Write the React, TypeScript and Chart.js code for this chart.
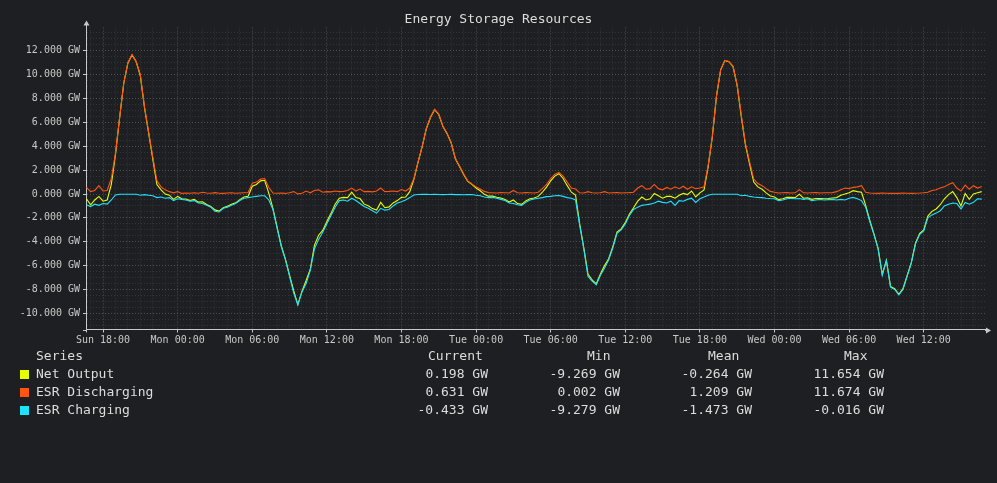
import { useEffect, useRef } from "react"
import { Chart, registerables } from "chart.js"

Chart.register(...registerables)

// time axis: hours counted from Sun 00:00, one sample every 20 minutes
const START_HOUR = 16 + 40 / 60
const STEP_HOURS = 1 / 3
const X_MIN = 16.63
const X_MAX = 88.93
const Y_MIN = -11.35
const Y_MAX = 13.95
const DAY_NAMES = ["Sun", "Mon", "Tue", "Wed", "Thu"]

// GW
const netOutput = [
  -0.4, -0.9, -0.5, -0.2, -0.6, -0.5, 0.8, 3.3, 6.38, 9.28,
  10.98, 11.65, 11.08, 9.9, 7.25, 5.1, 2.95, 0.8, 0.35, 0.0,
  -0.1, -0.45, -0.2, -0.4, -0.42, -0.54, -0.45, -0.68, -0.65, -0.87,
  -1.04, -1.33, -1.43, -1.15, -1.02, -0.85, -0.74, -0.47, -0.25, -0.18,
  0.65, 0.8, 1.1, 1.15, 0.05, -1.22, -2.79, -4.32, -5.45, -6.8,
  -8.1, -9.27, -8.13, -7.25, -6.3, -4.3, -3.45, -3.05, -2.3, -1.62,
  -0.85, -0.35, -0.28, -0.3, 0.15, -0.3, -0.38, -0.85, -0.98, -1.22,
  -1.35, -0.7, -1.15, -1.08, -0.75, -0.55, -0.28, -0.25, 0.2, 1.22,
  2.66, 3.97, 5.47, 6.41, 7.07, 6.66, 5.65, 5.06, 4.27, 2.95,
  2.31, 1.64, 1.05, 0.81, 0.5, 0.27, -0.03, -0.18, -0.18, -0.27,
  -0.33, -0.45, -0.67, -0.5, -0.8, -0.87, -0.58, -0.4, -0.34, -0.2,
  0.15, 0.58, 1.1, 1.5, 1.7, 1.3, 0.7, 0.15, -0.08, -2.5,
  -4.52, -6.7, -7.2, -7.52, -6.7, -6.0, -5.42, -4.4, -3.18, -2.92,
  -2.4, -1.68, -1.15, -0.6, -0.25, -0.5, -0.4, 0.05, -0.15, -0.35,
  -0.2, -0.2, -0.35, -0.1, 0.05, -0.05, 0.25, -0.25, 0.1, 0.35,
  2.3, 4.78, 8.18, 10.38, 11.18, 11.08, 10.68, 9.08, 6.45, 4.1,
  2.5, 1.0, 0.6, 0.4, 0.1, -0.16, -0.25, -0.47, -0.4, -0.28,
  -0.27, -0.3, -0.01, -0.35, -0.32, -0.45, -0.38, -0.37, -0.4, -0.37,
  -0.33, -0.3, -0.1, 0.0, 0.1, 0.28, 0.2, 0.15, -0.95, -2.22,
  -3.34, -4.55, -6.72, -5.54, -7.75, -7.93, -8.4, -7.92, -6.84, -5.75,
  -4.13, -3.32, -3.0, -1.85, -1.45, -1.25, -0.9, -0.4, -0.05, 0.2,
  -0.3, -1.0, 0.05, -0.45, 0.0, 0.1, 0.2,
]

const esrDischarging = [
  0.55, 0.2, 0.3, 0.7, 0.25, 0.3, 1.3, 3.4, 6.4, 9.3,
  11.0, 11.67, 11.1, 10.0, 7.3, 5.2, 3.1, 1.1, 0.6, 0.35,
  0.2, 0.1, 0.2, 0.05, 0.08, 0.06, 0.1, 0.07, 0.15, 0.08,
  0.06, 0.12, 0.07, 0.05, 0.08, 0.1, 0.06, 0.08, 0.1, 0.12,
  0.9, 1.0, 1.25, 1.3, 0.55, 0.08, 0.06, 0.08, 0.05, 0.1,
  0.2, 0.01, 0.07, 0.25, 0.1, 0.3, 0.35, 0.15, 0.2, 0.18,
  0.25, 0.2, 0.22, 0.3, 0.5, 0.25, 0.42, 0.2, 0.22, 0.18,
  0.25, 0.5, 0.2, 0.22, 0.25, 0.2, 0.37, 0.25, 0.5, 1.3,
  2.7, 4.0, 5.5, 6.45, 7.1, 6.7, 5.7, 5.1, 4.3, 3.0,
  2.35, 1.7, 1.1, 0.85, 0.6, 0.42, 0.22, 0.12, 0.1, 0.08,
  0.12, 0.1, 0.08, 0.3, 0.1, 0.08, 0.12, 0.1, 0.08, 0.15,
  0.45, 0.8, 1.3, 1.65, 1.82, 1.5, 1.0, 0.5, 0.42, 0.1,
  0.08, 0.2, 0.1, 0.08, 0.1, 0.2, 0.08, 0.1, 0.12, 0.08,
  0.1, 0.12, 0.15, 0.5, 0.7, 0.4, 0.45, 0.8, 0.45, 0.35,
  0.55, 0.4, 0.6, 0.45, 0.65, 0.4, 0.6, 0.45, 0.5, 0.6,
  2.4, 4.8, 8.2, 10.4, 11.2, 11.1, 10.7, 9.1, 6.6, 4.2,
  2.7, 1.25, 0.88, 0.7, 0.45, 0.22, 0.15, 0.08, 0.1, 0.12,
  0.08, 0.1, 0.37, 0.1, 0.08, 0.1, 0.12, 0.08, 0.1, 0.1,
  0.12, 0.2, 0.35, 0.5, 0.45, 0.56, 0.6, 0.7, 0.15, 0.08,
  0.06, 0.05, 0.08, 0.06, 0.05, 0.07, 0.05, 0.08, 0.06, 0.05,
  0.07, 0.08, 0.1, 0.15, 0.3, 0.35, 0.5, 0.6, 0.8, 0.95,
  0.5, 0.25, 0.75, 0.4, 0.7, 0.5, 0.63,
]

const esrCharging = [
  -0.9, -1.05, -0.85, -0.95, -0.8, -0.85, -0.5, -0.08, -0.02, -0.02,
  -0.02, -0.02, -0.02, -0.1, -0.05, -0.1, -0.15, -0.3, -0.25, -0.35,
  -0.3, -0.55, -0.4, -0.45, -0.5, -0.6, -0.55, -0.75, -0.8, -0.95,
  -1.1, -1.45, -1.5, -1.2, -1.1, -0.95, -0.8, -0.55, -0.35, -0.3,
  -0.25, -0.2, -0.15, -0.15, -0.5, -1.3, -2.85, -4.4, -5.5, -6.9,
  -8.3, -9.28, -8.2, -7.5, -6.4, -4.6, -3.8, -3.2, -2.5, -1.8,
  -1.1, -0.55, -0.5, -0.6, -0.35, -0.55, -0.8, -1.05, -1.2, -1.4,
  -1.6, -1.2, -1.35, -1.3, -1.0, -0.75, -0.65, -0.5, -0.3, -0.08,
  -0.04, -0.03, -0.03, -0.04, -0.03, -0.04, -0.05, -0.04, -0.03, -0.05,
  -0.04, -0.06, -0.05, -0.04, -0.1, -0.15, -0.25, -0.3, -0.28, -0.35,
  -0.45, -0.55, -0.75, -0.8, -0.9, -0.95, -0.7, -0.5, -0.42, -0.35,
  -0.3, -0.22, -0.2, -0.15, -0.12, -0.2, -0.3, -0.35, -0.5, -2.6,
  -4.6, -6.9, -7.3, -7.6, -6.8, -6.2, -5.5, -4.5, -3.3, -3.0,
  -2.5, -1.8, -1.3, -1.1, -0.95, -0.9, -0.85, -0.75, -0.6, -0.7,
  -0.75, -0.6, -0.95, -0.55, -0.6, -0.45, -0.35, -0.7, -0.4, -0.25,
  -0.1, -0.02, -0.02, -0.02, -0.02, -0.02, -0.02, -0.02, -0.15, -0.1,
  -0.2, -0.25, -0.28, -0.3, -0.35, -0.38, -0.4, -0.55, -0.5, -0.4,
  -0.35, -0.4, -0.38, -0.45, -0.4, -0.55, -0.5, -0.45, -0.5, -0.47,
  -0.45, -0.5, -0.45, -0.5, -0.35, -0.28, -0.4, -0.55, -1.1, -2.3,
  -3.4, -4.6, -6.8, -5.6, -7.8, -8.0, -8.45, -8.0, -6.9, -5.8,
  -4.2, -3.4, -3.1, -2.0, -1.75, -1.6, -1.4, -1.0, -0.85, -0.75,
  -0.8, -1.25, -0.7, -0.85, -0.7, -0.4, -0.43,
]

const SERIES_NAMES = ["Net Output", "ESR Discharging", "ESR Charging"]
const SERIES_COLORS = ["#e5ff00", "#ff5511", "#1de3ff"]
const STAT_HEADERS = ["Current", "Min", "Mean", "Max"]
const STAT_VALUES = [
  ["0.198 GW", "-9.269 GW", "-0.264 GW", "11.654 GW"],
  ["0.631 GW", "0.002 GW", "1.209 GW", "11.674 GW"],
  ["-0.433 GW", "-9.279 GW", "-1.473 GW", "-0.016 GW"],
]

const BG = "#1e1f22"
const TEXT = "#dddddd"
const AXIS = "#c8c8c8"
const GRID_MAJOR = "#505050"
const GRID_MINOR = "#343538"
const FONT = "'DejaVu Sans Mono', monospace"

// legend column geometry (px)
const HEADER_LEFT = [428, 587, 708, 844]
const VALUE_RIGHT = [488, 620, 752, 884]

const axisArrows = {
  id: "axisArrows",
  afterDraw(chart: Chart) {
    const { ctx, chartArea: a } = chart
    const x0 = Math.round(a.left) + 0.5
    const y0 = Math.round(a.bottom) + 0.5
    ctx.save()
    ctx.strokeStyle = AXIS
    ctx.fillStyle = AXIS
    ctx.lineWidth = 1
    ctx.beginPath()
    ctx.moveTo(x0, a.top)
    ctx.lineTo(x0, a.top - 4)
    ctx.moveTo(a.right, y0)
    ctx.lineTo(a.right + 2, y0)
    ctx.moveTo(x0, a.bottom)
    ctx.lineTo(x0, a.bottom + 3)
    ctx.moveTo(a.left - 3, y0)
    ctx.lineTo(a.left, y0)
    ctx.stroke()
    ctx.beginPath()
    ctx.moveTo(x0, a.top - 7)
    ctx.lineTo(x0 - 3, a.top - 2)
    ctx.lineTo(x0 + 3, a.top - 2)
    ctx.closePath()
    ctx.fill()
    ctx.beginPath()
    ctx.moveTo(a.right + 6, y0)
    ctx.lineTo(a.right + 1, y0 - 3)
    ctx.lineTo(a.right + 1, y0 + 3)
    ctx.closePath()
    ctx.fill()
    ctx.restore()
  },
}

function formatHour(v: number) {
  const day = DAY_NAMES[Math.floor(v / 24)]
  const hh = String(v % 24).padStart(2, "0")
  return `${day} ${hh}:00`
}

export default function App() {
  const canvasRef = useRef<HTMLCanvasElement>(null)
  const chartRef = useRef<Chart | null>(null)

  useEffect(() => {
    if (!canvasRef.current) return
    const ctx = canvasRef.current.getContext("2d")
    if (!ctx) return

    if (chartRef.current) chartRef.current.destroy()

    const toPoints = (values: number[]) =>
      values.map((y, i) => ({ x: START_HOUR + i * STEP_HOURS, y }))

    const seriesData = [netOutput, esrDischarging, esrCharging]

    chartRef.current = new Chart(ctx, {
      type: "line",
      data: {
        datasets: seriesData.map((values, i) => ({
          label: SERIES_NAMES[i],
          data: toPoints(values),
          borderColor: SERIES_COLORS[i],
          backgroundColor: SERIES_COLORS[i],
          borderWidth: 1.1,
          pointRadius: 0,
          tension: 0,
          fill: false,
          order: 3 - i,
        })),
      },
      options: {
        responsive: false,
        animation: false,
        events: [],
        layout: { padding: { top: 27.5, right: 12, bottom: 133.5, left: 0 } },
        plugins: {
          legend: { display: false },
          title: { display: false },
          tooltip: { enabled: false },
        },
        scales: {
          x: {
            type: "linear",
            min: X_MIN,
            max: X_MAX,
            afterFit: (scale) => {
              scale.height = 20
            },
            border: { display: true, color: AXIS, width: 1, dash: [1, 2] },
            grid: {
              color: (c) => (c.tick && c.tick.value % 6 === 0 ? GRID_MAJOR : GRID_MINOR),
              lineWidth: 1,
              drawTicks: true,
              tickLength: 3,
              tickColor: (c) => (c.tick && c.tick.value % 6 === 0 ? AXIS : "rgba(0,0,0,0)"),
            },
            ticks: {
              stepSize: 1,
              autoSkip: false,
              includeBounds: false,
              maxRotation: 0,
              padding: 2,
              color: AXIS,
              font: { family: FONT, size: 10 },
              callback: (v) => (Number(v) % 6 === 0 ? formatHour(Number(v)) : ""),
            },
          },
          y: {
            min: Y_MIN,
            max: Y_MAX,
            afterFit: (scale) => {
              scale.width = 86
            },
            border: { display: true, color: AXIS, width: 1, dash: [1, 2] },
            grid: {
              color: (c) => (c.tick && Math.abs(c.tick.value % 2) < 1e-6 ? GRID_MAJOR : GRID_MINOR),
              lineWidth: 1,
              drawTicks: true,
              tickLength: 3,
              tickColor: (c) =>
                c.tick && Math.abs(c.tick.value % 2) < 1e-6 ? AXIS : "rgba(0,0,0,0)",
            },
            ticks: {
              stepSize: 0.5,
              autoSkip: false,
              includeBounds: false,
              padding: 3,
              color: AXIS,
              font: { family: FONT, size: 10 },
              callback: (v) =>
                Math.abs(Number(v) % 2) < 1e-6 ? `${Number(v).toFixed(3)} GW` : "",
            },
          },
        },
      },
      plugins: [axisArrows],
    })

    return () => {
      if (chartRef.current) {
        chartRef.current.destroy()
        chartRef.current = null
      }
    }
  }, [])

  const rowTop = (row: number) => 347 + row * 18

  return (
    <div
      style={{
        position: "fixed",
        left: 0,
        top: 0,
        width: 997,
        height: 483,
        background: BG,
        fontFamily: FONT,
        color: TEXT,
        overflow: "hidden",
      }}
    >
      <canvas
        ref={canvasRef}
        width={997}
        height={483}
        style={{ position: "absolute", left: 0, top: 0, width: 997, height: 483 }}
      ></canvas>
      <div
        style={{
          position: "absolute",
          top: 11,
          left: 0,
          width: 997,
          textAlign: "center",
          fontSize: 13,
          lineHeight: "16px",
        }}
      >
        Energy Storage Resources
      </div>
      <div style={{ position: "absolute", left: 36, top: rowTop(0), fontSize: 13, lineHeight: "18px", whiteSpace: "pre" }}>
        Series
      </div>
      {STAT_HEADERS.map((h, i) => (
        <div
          key={h}
          style={{ position: "absolute", left: HEADER_LEFT[i], top: rowTop(0), fontSize: 13, lineHeight: "18px" }}
        >
          {h}
        </div>
      ))}
      {SERIES_NAMES.map((name, r) => (
        <div key={name}>
          <div
            style={{
              position: "absolute",
              left: 20,
              top: rowTop(r + 1) + 5,
              width: 9,
              height: 9,
              background: SERIES_COLORS[r],
            }}
          />
          <div
            style={{ position: "absolute", left: 36, top: rowTop(r + 1), fontSize: 13, lineHeight: "18px", whiteSpace: "pre" }}
          >
            {name}
          </div>
          {STAT_VALUES[r].map((val, c) => (
            <div
              key={c}
              style={{
                position: "absolute",
                left: VALUE_RIGHT[c] - 120,
                width: 120,
                textAlign: "right",
                top: rowTop(r + 1),
                fontSize: 13,
                lineHeight: "18px",
                whiteSpace: "pre",
              }}
            >
              {val}
            </div>
          ))}
        </div>
      ))}
    </div>
  )
}
